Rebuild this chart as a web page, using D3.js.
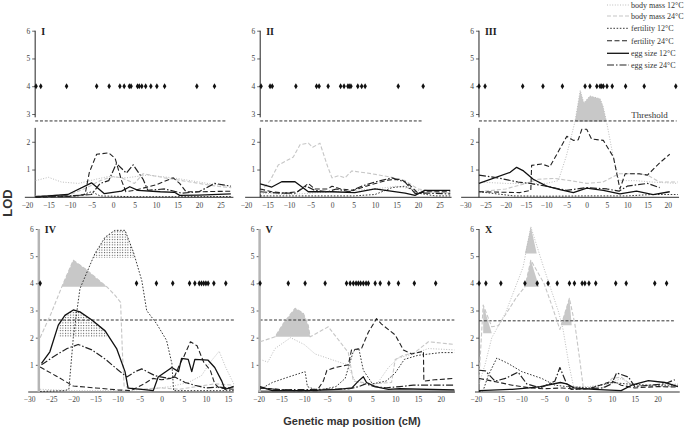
<!DOCTYPE html>
<html>
<head>
<meta charset="utf-8">
<script src="https://cdn.jsdelivr.net/npm/d3@7"></script>
<style>
  body { margin: 0; background: #fff; }
  svg { display: block; }
</style>
</head>
<body>
<svg id="chart" width="685" height="435"></svg>
<script>
// ---- data (LOD profiles per chromosome) ----
const chromosomes = ["I", "II", "III", "IV", "V", "X"];

const ticksI = [-20, -15, -10, -5, 0, 5, 10, 15, 20, 25];
const ticksII = [-20, -15, -10, -5, 0, 5, 10, 15, 20, 25];
const ticksIII = [-30, -25, -20, -15, -10, -5, 0, 5, 10, 15, 20];
const ticksIV = [-30, -25, -20, -15, -10, -5, 0, 5, 10, 15];
const ticksV = [-20, -15, -10, -5, 0, 5, 10, 15, 20];
const ticksX = [-20, -15, -10, -5, 0, 5, 10, 15, 20];
const lodTicks = [1, 2, 3, 4, 5, 6];

const thresholds = { I: 2.75, II: 2.75, III: 2.75, IV: 2.65, V: 2.65, X: 2.62 };

// marker positions (cM), drawn at LOD 4
const markersI = [-17.9, -16.8, -10.8, -3.8, -0.9, 1.6, 2.6, 3.8, 4.2, 5.7, 6.1, 6.7, 7.6, 8.8, 10.2, 12.0, 19.5, 23.6];
const markersII = [-16.5, -14.4, -13.9, -8.4, -3.6, -3.0, -0.9, 2.0, 2.8, 3.7, 4.0, 4.4, 6.0, 6.9, 7.7, 15.4, 21.2];
const markersIII = [-26.6, -25.1, -15.8, -10.8, -6.0, -0.4, 0.8, 2.5, 3.3, 3.7, 4.1, 5.0, 6.3, 9.6, 14.2, 22.0];
const markersIV = [-27.5, -5.7, -1.2, 2.5, 6.3, 7.5, 8.5, 9.0, 9.5, 10.0, 10.5, 11.8, 14.5];
const markersV = [-19.7, -13.5, -9.8, -5.4, -0.7, 0.1, 0.8, 1.4, 1.9, 2.4, 3.0, 3.6, 4.1, 5.6, 6.7, 8.6, 10.7, 14.2, 18.9];
const markersX = [-19.3, -17.8, -14.5, -9.2, -6.5, -4.1, -2.1, 0.6, 1.7, 3.4, 4.0, 4.9, 6.4, 10.8, 13.1, 19.4, 22.0];

const bodyMass12 = {
  I: [[-18, 0.6], [-15, 0.72], [-12, 0.55], [-8, 0.5], [-4, 0.65], [-1, 0.75], [3, 0.7], [8, 0.8], [14, 0.7], [20, 0.55], [24, 0.45], [27.5, 0.4]],
  II: [[-16.7, 0.15], [-10, 0.1], [-5, 0.15], [0, 0.2], [5, 0.25], [10, 0.3], [15, 0.4], [20, 0.25], [27.5, 0.15]],
  III: [[-26.6, 0.55], [-20, 0.5], [-15, 0.5], [-10, 0.5], [-7, 0.6], [-5, 1.5], [-2.9, 2.72], [-1.6, 3.85], [-0.7, 3.4], [0.8, 3.65], [3.3, 3.55], [4, 3.3], [4.9, 2.72], [6.5, 1.5], [8, 0.6], [12, 0.6], [16, 0.55], [22.5, 0.5]],
  IV: [[-27.5, 0.1], [-20, 0.05], [-10, 0.05], [-3, 0.1], [2, 0.2], [6, 0.35], [9, 0.6], [11, 1.1], [13, 1.5], [14.5, 0.9], [16.3, 0.3]],
  V: [[-19.7, 1.2], [-18, 1.1], [-16.4, 1.6], [-13, 2.0], [-10, 1.75], [-7.6, 1.4], [-3.2, 1.15], [-0.5, 1.0], [1.2, 0.4], [5.6, 0.2], [8.5, 0.9], [10.7, 1.25], [14, 1.4], [17.3, 1.6], [23, 1.55]],
  X: [[-19.3, 0.3], [-18, 1.0], [-16.5, 2.0], [-15, 2.45], [-13.5, 2.9], [-9.6, 4.6], [-7.9, 6.08], [-5.1, 4.6], [-1.8, 2.95], [-0.8, 2.3], [0.5, 1.0], [1.5, 0.2], [5, 0.2], [10, 0.35], [12, 0.5], [15, 0.2], [20, 0.25], [24.5, 0.3]]
};

const bodyMass24 = {
  I: [[-18, 0.05], [-10, 0.1], [-6, 0.35], [-3, 0.6], [0, 0.75], [2, 0.7], [5, 0.5], [7, 0.85], [12, 0.7], [18, 0.55], [24, 0.4], [27.5, 0.35]],
  II: [[-16.7, 0.2], [-14.4, 0.6], [-12.5, 1.16], [-9, 1.45], [-7.4, 1.9], [-5.5, 1.95], [-4.5, 1.8], [-2.8, 1.95], [-1, 1.1], [0, 0.7], [1.5, 0.78], [3, 0.7], [4.6, 0.95], [9.2, 0.85], [13.9, 0.72], [17, 0.6], [20, 0.3], [24, 0.2], [27.5, 0.15]],
  III: [[-26.6, 0.2], [-20, 0.3], [-15, 0.5], [-12, 0.65], [-8, 0.68], [-4, 0.6], [0, 0.5], [4, 0.55], [8, 0.85], [12, 0.85], [15, 0.8], [18, 0.55], [22.5, 0.55]],
  IV: [[-27.5, 2.0], [-25, 2.9], [-22.6, 3.87], [-20, 4.85], [-17, 4.5], [-14.5, 4.15], [-12.4, 3.87], [-10.5, 3.55], [-9.3, 3.3], [-8.9, 1.5], [-8.5, 0.2], [-5, 0.1], [0, 0.15], [4, 0.1], [8, 0.2], [12, 0.3], [16.3, 0.25]],
  V: [[-19.7, 1.85], [-16.4, 2.03], [-14.6, 2.52], [-12, 3.08], [-10.2, 2.9], [-9.1, 2.45], [-8.7, 2.03], [-4.7, 2.4], [-0.3, 1.45], [0.8, 0.4], [5, 0.3], [9.2, 0.35], [10, 1.2], [11.8, 1.35], [14.3, 1.45], [17.3, 1.85], [23, 1.75]],
  X: [[-19.3, 0.5], [-18.4, 3.2], [-16.5, 2.4], [-15, 2.45], [-11, 3.5], [-9.2, 3.87], [-7.9, 4.85], [-5, 4.0], [-3.3, 3.2], [-1.5, 2.3], [0.6, 3.45], [1.8, 2.5], [2.9, 1.15], [3.7, 0.1], [8, 0.15], [10, 0.5], [12, 0.55], [14, 0.3], [18, 0.2], [24.5, 0.2]]
};

const fertility12 = {
  I: [[-18, 0.02], [-8, 0.05], [-5, 0.2], [-3, 0.05], [5, 0.02], [15, 0.02], [27.5, 0.03]],
  II: [[-16.7, 0.05], [-5, 0.05], [0, 0.05], [5, 0.05], [10, 0.1], [14, 0.35], [17, 0.4], [20, 0.15], [24, 0.05], [27.5, 0.05]],
  III: [[-26.6, 0.2], [-22, 0.12], [-18, 0.05], [-10, 0.04], [0, 0.05], [10, 0.05], [16, 0.1], [22.5, 0.1]],
  IV: [[-27.5, 0.02], [-22, 0.05], [-21, 0.1], [-20, 2.0], [-18.5, 3.8], [-15.1, 5.1], [-12.8, 5.7], [-10.6, 5.95], [-8.3, 5.95], [-6.4, 5.15], [-4.5, 4.1], [-3.4, 3.0], [-1.1, 2.5], [1.1, 1.9], [2.3, 1.05], [2.7, 0.05], [6, 0.05], [16.3, 0.05]],
  V: [[-19.7, 0.1], [-17, 0.35], [-13.5, 0.55], [-9.8, 0.75], [-9.3, 0.2], [-7, 0.05], [-3, 0.2], [-1, 0.5], [0.8, 1.5], [2, 1.6], [3, 0.8], [5, 0.3], [8, 0.4], [10, 0.7], [12, 1.2], [15, 1.35], [20, 1.45], [23, 1.45]],
  X: [[-19.3, 0.02], [-18.4, 0.05], [-17.3, 0.6], [-15.4, 1.25], [-12.9, 1.05], [-9.9, 0.75], [-5.5, 0.5], [-2.6, 0.25], [0, 0.2], [5, 0.15], [10, 0.35], [13, 0.3], [18, 0.25], [24.5, 0.25]]
};

const fertility24 = {
  I: [[-18, 0], [-10, 0.03], [-6.5, 0.1], [-5.5, 0.9], [-3.8, 1.55], [-1, 1.6], [0.5, 1.4], [2, 0.6], [3, 0.2], [5, 0.25], [10, 0.45], [14, 0.7], [15.5, 0.5], [17, 0.2], [20, 0.2], [27.5, 0.22]],
  II: [[-16.7, 0.3], [-14, 0.2], [-11, 0.15], [-8, 0.2], [-5.5, 0.5], [-4, 0.3], [-1, 0.3], [0, 0.4], [2, 0.3], [5, 0.25], [9, 0.45], [13, 0.62], [16, 0.65], [18, 0.45], [20, 0.15], [22, 0.2], [27.5, 0.2]],
  III: [[-26.6, 0.2], [-16.5, 0.17], [-13.8, 0.25], [-13.6, 1.15], [-11.1, 1.2], [-9.1, 1.1], [-4.9, 2.2], [-3.3, 2.05], [-2.1, 2.07], [-1.2, 2.45], [0, 2.45], [1.2, 2.1], [4.1, 2.05], [6.6, 1.45], [8.2, 0.3], [9.5, 0.85], [13, 0.85], [15, 0.8], [18.1, 1.25], [20.5, 1.55]],
  IV: [[-27.5, 0.92], [-24, 0.6], [-20, 0.22], [-15, 0.15], [-10, 0.08], [-7, 0.05], [-4, 0.3], [-2, 0.5], [0, 0.45], [2, 0.5], [3, 0.6], [4, 1.0], [5, 1.3], [6.5, 1.85], [8, 1.7], [9.5, 1.1], [11, 0.8], [12, 0.3], [13, 0.15], [16.3, 0.1]],
  V: [[-19.7, 0.15], [-12, 0.05], [-7.2, 0.05], [-5.8, 0.4], [-5, 0.8], [-3.2, 0.9], [-0.3, 1.0], [0.4, 1.55], [2.6, 1.6], [4.1, 2.2], [5.9, 2.7], [7, 2.5], [10, 2.1], [11.8, 1.55], [13.6, 1.4], [16.2, 1.5], [16.3, 0.4], [18.7, 0.45], [23, 0.5]],
  X: [[-19.3, 0.5], [-15.4, 0.37], [-12, 0.25], [-8, 0.15], [-5, 0.12], [-1, 0.15], [2, 0.1], [5, 0.12], [10, 0.4], [12, 0.25], [15, 0.15], [20, 0.2], [24.5, 0.18]]
};

const eggSize12 = {
  I: [[-18, 0.02], [-15, 0.05], [-10.5, 0.1], [-5, 0.52], [-2, 0.13], [2, 0.22], [3.9, 0.38], [5.8, 0.25], [11, 0.2], [14.3, 0.18], [15.5, 0.07], [20, 0.08], [27.4, 0.12]],
  II: [[-16.7, 0.48], [-14, 0.37], [-11.7, 0.56], [-8.6, 0.56], [-5.5, 0.2], [0, 0.2], [5.3, 0.17], [10, 0.3], [17, 0.15], [19.3, 0.07], [21.6, 0.25], [27.5, 0.25]],
  III: [[-26.6, 0.5], [-18.9, 0.9], [-17.3, 1.08], [-15.6, 0.95], [-13.2, 0.65], [-9.9, 0.4], [-6.6, 0.28], [-3.3, 0.17], [0, 0.33], [4.1, 0.25], [8.2, 0.12], [12.3, 0.22], [16.4, 0.1], [20.5, 0.2]],
  IV: [[-27.2, 1.05], [-25.3, 1.48], [-23.4, 2.46], [-21.9, 2.82], [-20, 3.02], [-18.5, 2.95], [-15.8, 2.65], [-12.8, 2.25], [-10.2, 1.6], [-8.3, 0.75], [-7.6, 0.14], [-4.5, 0.1], [-1.9, 0.05], [-0.8, 0.55], [2.3, 0.9], [3.8, 0.75], [4.5, 1.24], [6.0, 1.2], [6.8, 0.75], [7.5, 1.2], [10.5, 1.17], [12, 0.9], [13.6, 0.4], [14.3, 0.1], [16.2, 0.2]],
  V: [[-19.7, 0.2], [-17, 0.05], [-10, 0.05], [-2.5, 0.1], [0.5, 0.15], [1.9, 0.4], [3, 0.56], [3.7, 0.35], [5.6, 0.2], [8.5, 0.1], [11, 0.12], [23, 0.08]],
  X: [[-19.3, 0.05], [-12, 0.1], [-8.3, 0.15], [-5.8, 0.2], [-1.4, 0.35], [0, 0.3], [1.6, 0.15], [6, 0.1], [12, 0.05], [14.3, 0.25], [18, 0.42], [21.6, 0.35], [24.5, 0.2]]
};

const eggSize24 = {
  I: [[-18, 0.02], [-10, 0.05], [-5, 0.1], [-3, 0.5], [-1, 0.6], [0.8, 1.22], [3.1, 0.87], [4.7, 1.17], [7, 0.65], [8.1, 0.25], [12, 0.3], [16, 0.15], [20, 0.2], [23.6, 0.5], [27.4, 0.4]],
  II: [[-16.7, 0.2], [-12, 0.15], [-8.6, 0.15], [-6, 0.4], [-4, 0.25], [-1, 0.2], [1, 0.3], [4, 0.2], [6.9, 0.4], [10, 0.55], [13.9, 0.7], [17, 0.55], [19.3, 0.14], [22, 0.15], [27.5, 0.12]],
  III: [[-26.6, 0.8], [-22, 0.7], [-17, 0.55], [-14, 0.5], [-10, 0.4], [-5, 0.25], [0, 0.35], [5, 0.3], [8, 0.22], [10, 0.4], [15, 0.5], [18, 0.35]],
  IV: [[-27.2, 1.0], [-24.5, 1.3], [-21.4, 1.6], [-18.9, 1.75], [-15.8, 1.55], [-12.7, 1.2], [-9.8, 0.8], [-7.9, 0.55], [-6, 0.75], [-4.5, 0.85], [-1.5, 0.6], [1.5, 0.5], [3, 0.55], [5.3, 0.35], [7.5, 0.25], [10, 0.15], [12.8, 0.18], [15, 0.15], [16.3, 0.2]],
  V: [[-19.7, 0.15], [-15, 0.08], [-5, 0.1], [0, 0.12], [2, 0.2], [3.5, 0.3], [5.5, 0.2], [8, 0.15], [11, 0.2], [14, 0.25], [23, 0.25]],
  X: [[-19.3, 0.8], [-17.9, 0.78], [-15.8, 0.4], [-13.5, 0.5], [-10.7, 0.73], [-8.8, 0.3], [-5.8, 0.15], [-2.6, 0.4], [-1.5, 0.9], [0, 0.3], [1, 0.1], [8, 0.15], [9.9, 0.3], [11, 0.7], [13.6, 0.55], [15, 0.2], [18, 0.25], [21.6, 0.3], [23.8, 0.45]]
};

// grey shaded support intervals and the stippled ones (polygons in cM / LOD)
const greyFills = {
  III: [[[-2.9, 2.72], [-1.6, 3.85], [-0.7, 3.4], [0.8, 3.65], [3.3, 3.55], [4, 3.3], [4.9, 2.72]]],
  IV: [[[-22.6, 3.87], [-20, 4.85], [-17, 4.5], [-14.5, 4.15], [-12.4, 3.87]]],
  V: [[[-16.4, 2.03], [-14.6, 2.52], [-12, 3.08], [-10.2, 2.9], [-9.1, 2.45], [-8.7, 2.03]]],
  X: [
    [[-18.4, 3.2], [-18.4, 2.16], [-16.5, 2.16]],
    [[-9.2, 5.1], [-7.9, 6.08], [-6.6, 5.1]],
    [[-9.2, 3.87], [-7.9, 4.85], [-6.1, 3.87]],
    [[-1.25, 2.46], [0.6, 3.45], [1.1, 2.46]]
  ]
};
const dotFills = {
  IV: [
    [[-15.5, 4.94], [-15.1, 5.1], [-12.8, 5.7], [-10.6, 5.95], [-8.3, 5.95], [-6.4, 5.15], [-6.2, 4.94]],
    [[-23.4, 2.0], [-23.4, 2.46], [-21.9, 2.82], [-20, 3.02], [-18.5, 2.95], [-15.8, 2.65], [-12.8, 2.25], [-12.4, 2.2], [-12.4, 2.0]]
  ]
};

const legendLabels = ["body mass 12°C", "body mass 24°C", "fertility 12°C", "fertility 24°C", "egg size 12°C", "egg size 24°C"];

// ---- styles / layout ----
const traits = [
  { data: bodyMass12, stroke: "#bdbdbd", dash: "1,1.6", width: 1 },
  { data: bodyMass24, stroke: "#c6c6c6", dash: "4,2", width: 1.1 },
  { data: fertility12, stroke: "#222", dash: "1.6,1.6", width: 0.9 },
  { data: fertility24, stroke: "#222", dash: "5,2.5", width: 1.1 },
  { data: eggSize12, stroke: "#111", dash: null, width: 1.3 },
  { data: eggSize24, stroke: "#222", dash: "7,2,1.5,2", width: 1.2 }
];

const layout = {
  I:   { ticks: ticksI,   markers: markersI,   zero: 113,   ppu: 4.3,  row: 0, axisAt: -18.1, baseFrom: -20.5, baseTo: 28,   thrTo: 26.5, axis: "gap" },
  II:  { ticks: ticksII,  markers: markersII,  zero: 332,   ppu: 4.3,  row: 0, axisAt: -16.7, baseFrom: -20.2, baseTo: 27.8, thrTo: 21.2, axis: "gap" },
  III: { ticks: ticksIII, markers: markersIII, zero: 586.7, ppu: 4.05, row: 0, axisAt: -26.6, baseFrom: -31,   baseTo: 22.8, thrTo: 22.2, axis: "gap" },
  IV:  { ticks: ticksIV,  markers: markersIV,  zero: 161.7, ppu: 4.42, row: 1, axisAt: -27.8, baseFrom: -30.2, baseTo: 16.3, thrTo: 16.5, axis: "grey" },
  V:   { ticks: ticksV,   markers: markersV,   zero: 349.7, ppu: 4.55, row: 1, axisAt: -19.8, baseFrom: -20.1, baseTo: 23.1, thrTo: 23,   axis: "grey" },
  X:   { ticks: ticksX,   markers: markersX,   zero: 566.7, ppu: 4.54, row: 1, axisAt: -19.3, baseFrom: -20.2, baseTo: 24.9, thrTo: 23.6, axis: "black" }
};
const rows = [[197.3, 30.7], [392, 229]];

const svg = d3.select("#chart");
svg.append("rect").attr("width", 685).attr("height", 435).attr("fill", "#fff");

const defs = svg.append("defs");
const pat = defs.append("pattern").attr("id", "stipple")
  .attr("width", 2.6).attr("height", 2.6).attr("patternUnits", "userSpaceOnUse");
pat.append("rect").attr("width", 1).attr("height", 1).attr("fill", "#444");

const serif = "'Liberation Serif', 'Times New Roman', serif";
const sans = "'Liberation Sans', Arial, sans-serif";

chromosomes.forEach(chr => {
  const L = layout[chr];
  const xmin = L.ticks[0], xmax = L.ticks[L.ticks.length - 1];
  const x = d3.scaleLinear().domain([xmin, xmax]).range([L.zero + xmin * L.ppu, L.zero + xmax * L.ppu]);
  const y = d3.scaleLinear().domain([0, 6]).range(rows[L.row]);
  const g = svg.append("g");
  const line = d3.line().x(d => x(d[0])).y(d => y(d[1]));

  // shaded intervals
  (greyFills[chr] || []).forEach(poly => {
    g.append("path").attr("d", line(poly) + "Z").attr("fill", "#c8c8c8");
  });
  (dotFills[chr] || []).forEach(poly => {
    g.append("path").attr("d", line(poly) + "Z").attr("fill", "url(#stipple)");
  });

  // threshold
  g.append("line")
    .attr("x1", x(L.axisAt)).attr("x2", x(L.thrTo))
    .attr("y1", y(thresholds[chr])).attr("y2", y(thresholds[chr]))
    .attr("stroke", "#333").attr("stroke-width", 1).attr("stroke-dasharray", "3,1.8");

  // x axis
  const xAxis = d3.axisBottom(x).tickValues(L.ticks).tickSize(0).tickPadding(5)
    .tickFormat(d3.format("d"));
  const xa = g.append("g").attr("transform", `translate(0,${y(0)})`).call(xAxis);
  xa.select(".domain").remove();
  xa.selectAll("text").attr("font-family", serif).attr("font-size", 7.5).attr("fill", "#444");
  if (chr === "V") {
    g.append("line").attr("x1", x(L.baseFrom)).attr("x2", x(L.baseTo))
      .attr("y1", y(0) - 0.5).attr("y2", y(0) - 0.5)
      .attr("stroke", "#aaa").attr("stroke-width", 3);
  }
  g.append("line").attr("x1", x(L.baseFrom)).attr("x2", x(L.baseTo))
    .attr("y1", y(0)).attr("y2", y(0)).attr("stroke", "#333").attr("stroke-width", 1);

  // y axis
  const yAxis = d3.axisLeft(y).tickValues(lodTicks).tickSize(3).tickPadding(2)
    .tickFormat(d3.format("d"));
  const ya = g.append("g").attr("transform", `translate(${x(L.axisAt)},0)`).call(yAxis);
  ya.select(".domain").remove();
  ya.selectAll("line").attr("stroke", "#666");
  ya.selectAll("text").attr("font-family", serif).attr("font-size", 7.5).attr("fill", "#444");
  const ax = x(L.axisAt);
  if (L.axis === "gap") {
    g.append("line").attr("x1", ax).attr("x2", ax).attr("y1", y(6)).attr("y2", y(2.88)).attr("stroke", "#222");
    g.append("line").attr("x1", ax).attr("x2", ax).attr("y1", y(2.5)).attr("y2", y(0)).attr("stroke", "#222");
  } else if (L.axis === "grey") {
    g.append("line").attr("x1", ax).attr("x2", ax).attr("y1", y(6)).attr("y2", y(0))
      .attr("stroke", "#b5b5b5").attr("stroke-width", 2.5);
  } else {
    g.append("line").attr("x1", ax).attr("x2", ax).attr("y1", y(6)).attr("y2", y(0)).attr("stroke", "#333");
  }

  // LOD profiles
  traits.forEach(t => {
    g.append("path").attr("d", line(t.data[chr]))
      .attr("fill", "none").attr("stroke", t.stroke)
      .attr("stroke-width", t.width)
      .attr("stroke-dasharray", t.dash)
      .attr("stroke-linejoin", "round");
  });

  // markers
  g.selectAll(".mk").data(L.markers).enter().append("path")
    .attr("transform", d => `translate(${x(d)},${y(4)})`)
    .attr("d", d3.symbol(d3.symbolDiamond, 11))
    .attr("fill", "#111");

  // panel label
  g.append("text").attr("x", ax + 6).attr("y", y(6) + 4)
    .attr("font-family", serif).attr("font-weight", "bold").attr("font-size", 10)
    .attr("fill", "#222").text(chr);
});

// Threshold label in panel III
{
  const L = layout.III;
  const x = d3.scaleLinear().domain([0, 1]).range([L.zero, L.zero + L.ppu]);
  const y = d3.scaleLinear().domain([0, 6]).range(rows[0]);
  svg.append("text").attr("x", x(11)).attr("y", y(thresholds.III) - 2.5)
    .attr("font-family", serif).attr("font-size", 9).attr("fill", "#333").text("Threshold");
}

// legend
const legend = svg.append("g");
const legendY = [5, 16, 28.3, 40.7, 53.3, 65];
legendLabels.forEach((lab, i) => {
  const t = traits[i];
  legend.append("line").attr("x1", 607).attr("x2", 629)
    .attr("y1", legendY[i]).attr("y2", legendY[i])
    .attr("stroke", t.stroke).attr("stroke-width", t.width).attr("stroke-dasharray", t.dash);
  legend.append("text").attr("x", 631).attr("y", legendY[i] + 2.8)
    .attr("font-family", serif).attr("font-size", 8).attr("fill", "#333").text(lab);
});

// axis titles
svg.append("text")
  .attr("transform", "translate(12,203) rotate(-90)")
  .attr("text-anchor", "middle")
  .attr("font-family", sans).attr("font-weight", "bold").attr("font-size", 13)
  .attr("fill", "#333").text("LOD");
svg.append("text")
  .attr("x", 352).attr("y", 425).attr("text-anchor", "middle")
  .attr("font-family", sans).attr("font-weight", "bold").attr("font-size", 11)
  .attr("fill", "#333").text("Genetic map position (cM)");
</script>
</body>
</html>
